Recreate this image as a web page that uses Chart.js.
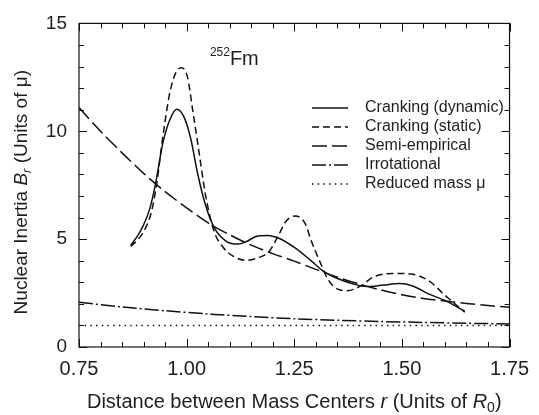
<!DOCTYPE html>
<html>
<head>
<meta charset="utf-8">
<script src="https://cdn.jsdelivr.net/npm/chart.js@4"></script>
<style>
  body { margin: 0; background: #fff; }
  #wrap { width: 539px; height: 415px; }
</style>
</head>
<body>
<div id="wrap"><canvas id="grafico" width="539" height="415"></canvas></div>
<script>
// mass parameter B_r vs. distance r, 252Fm
const crankDynX = [0.870, 0.886, 0.900, 0.915, 0.927, 0.945, 0.961, 0.977, 0.995, 1.010, 1.025, 1.044, 1.065, 1.093, 1.120, 1.139, 1.161, 1.188, 1.214, 1.252, 1.290, 1.317, 1.345, 1.389, 1.419, 1.457, 1.495, 1.525, 1.563, 1.601, 1.646];
const crankDynY = [4.72, 5.15, 5.66, 6.45, 7.49, 9.47, 10.53, 11.02, 10.61, 9.62, 8.09, 6.57, 5.50, 4.89, 4.77, 4.89, 5.12, 5.17, 5.04, 4.59, 3.98, 3.52, 3.22, 2.91, 2.80, 2.87, 2.94, 2.83, 2.45, 2.15, 1.66];

const crankStaX = [0.870, 0.888, 0.903, 0.918, 0.930, 0.945, 0.964, 0.987, 1.002, 1.014, 1.029, 1.044, 1.063, 1.086, 1.108, 1.139, 1.165, 1.192, 1.214, 1.230, 1.252, 1.275, 1.290, 1.309, 1.328, 1.351, 1.373, 1.404, 1.434, 1.480, 1.525, 1.563, 1.601, 1.646];
const crankStaY = [4.66, 5.00, 5.45, 6.25, 7.49, 9.79, 12.06, 12.95, 12.51, 10.99, 9.01, 7.03, 5.40, 4.59, 4.21, 4.02, 4.13, 4.44, 5.20, 5.81, 6.07, 5.73, 4.89, 3.98, 3.14, 2.68, 2.61, 2.83, 3.25, 3.41, 3.37, 3.06, 2.38, 1.61];

const semiX = [0.75, 0.80, 0.85, 0.90, 0.95, 1.00, 1.05, 1.10, 1.15, 1.20, 1.25, 1.30, 1.35, 1.40, 1.45, 1.50, 1.55, 1.60, 1.65, 1.70, 1.75];
const semiY = [11.10, 10.00, 9.00, 8.05, 7.20, 6.45, 5.75, 5.20, 4.72, 4.33, 3.98, 3.60, 3.24, 2.92, 2.65, 2.42, 2.25, 2.13, 2.02, 1.92, 1.84];

const irrotX = [0.75, 0.85, 0.95, 1.05, 1.15, 1.25, 1.35, 1.45, 1.55, 1.65, 1.75];
const irrotY = [2.07, 1.86, 1.68, 1.53, 1.41, 1.31, 1.24, 1.18, 1.14, 1.10, 1.07];

const reducedX = [0.75, 1.75];
const reducedY = [1.0, 1.0];

const etiquetas = ['Cranking (dynamic)', 'Cranking (static)', 'Semi-empirical', 'Irrotational', 'Reduced mass \u03bc'];
const xTicks = [0.75, 1.00, 1.25, 1.50, 1.75];
const yTicks = [0, 5, 10, 15];

const FUENTE = '"Liberation Sans", Arial, Helvetica, sans-serif';
const TINTA = '#1e1e1e';

function puntos(xs, ys){
    return xs.map((x, i) => ({x: x, y: ys[i]}));
}

function serie(label, xs, ys, dash, suave){
    return {
        label: label,
        data: puntos(xs, ys),
        showLine: true,
        borderColor: '#111',
        borderWidth: 1.5,
        borderDash: dash,
        pointRadius: 0,
        fill: false,
        tension: suave ? 0.4 : 0.3,
        cubicInterpolationMode: suave ? 'monotone' : 'default',
    };
}

let datos = {
    datasets: [
        serie(etiquetas[0], crankDynX, crankDynY, [], true),
        serie(etiquetas[1], crankStaX, crankStaY, [7, 4], true),
        serie(etiquetas[2], semiX, semiY, [15, 5], false),
        serie(etiquetas[3], irrotX, irrotY, [14, 3, 2, 3], false),
        serie(etiquetas[4], reducedX, reducedY, [1.5, 4.2], false),
    ]
};

// texto con partes en cursiva / subíndice
function trozos(ctx, partes, x, y, centrar){
    let ancho = 0;
    partes.forEach(p => {
        ctx.font = (p.it ? 'italic ' : '') + p.size + 'px ' + FUENTE;
        ancho += ctx.measureText(p.t).width;
    });
    let cx = centrar ? x - ancho / 2 : x;
    partes.forEach(p => {
        ctx.font = (p.it ? 'italic ' : '') + p.size + 'px ' + FUENTE;
        ctx.fillText(p.t, cx, y + (p.dy || 0));
        cx += ctx.measureText(p.t).width;
    });
}

const marco = {
    id: 'marco',
    afterDraw(chart){
        const ctx = chart.ctx;
        const a = chart.chartArea;
        const sx = chart.scales.x, sy = chart.scales.y;
        ctx.save();
        ctx.strokeStyle = '#111';
        ctx.lineWidth = 1.2;
        ctx.strokeRect(a.left, a.top, a.right - a.left, a.bottom - a.top);

        // ticks hacia dentro en los cuatro lados
        ctx.lineWidth = 1;
        ctx.beginPath();
        for(let i = 0; i <= 20; i++){
            const v = 0.75 + i * 0.05;
            const px = Math.round(sx.getPixelForValue(v)) + 0.5;
            const l = (i % 5 == 0) ? 8 : 5;
            ctx.moveTo(px, a.bottom); ctx.lineTo(px, a.bottom - l);
            ctx.moveTo(px, a.top); ctx.lineTo(px, a.top + l);
        }
        for(let i = 0; i <= 15; i++){
            const py = Math.round(sy.getPixelForValue(i)) + 0.5;
            const l = (i % 5 == 0) ? 8 : 5;
            ctx.moveTo(a.left, py); ctx.lineTo(a.left + l, py);
            ctx.moveTo(a.right, py); ctx.lineTo(a.right - l, py);
        }
        ctx.stroke();

        // leyenda
        ctx.fillStyle = TINTA;
        ctx.textBaseline = 'middle';
        ctx.textAlign = 'left';
        chart.data.datasets.forEach((ds, i) => {
            const y = 108 + i * 19;
            ctx.beginPath();
            ctx.setLineDash(ds.borderDash);
            ctx.lineWidth = ds.borderWidth;
            ctx.strokeStyle = ds.borderColor;
            ctx.moveTo(312, y); ctx.lineTo(348, y);
            ctx.stroke();
            ctx.setLineDash([]);
            ctx.font = '16px ' + FUENTE;
            ctx.fillText(ds.label, 365, y);
        });

        // núcleo
        ctx.textBaseline = 'alphabetic';
        const nx = sx.getPixelForValue(1.054), ny = sy.getPixelForValue(13.05);
        ctx.font = '12px ' + FUENTE;
        ctx.fillText('252', nx, ny - 9);
        ctx.font = '20px ' + FUENTE;
        ctx.fillText('Fm', nx + 20, ny);

        // título eje x
        trozos(ctx, [
            {t: 'Distance between Mass Centers ', size: 20},
            {t: 'r', size: 20, it: true},
            {t: ' (Units of ', size: 20},
            {t: 'R', size: 20, it: true},
            {t: '0', size: 14, dy: 4},
            {t: ')', size: 20},
        ], (a.left + a.right) / 2, 408, true);

        // título eje y
        ctx.translate(27, (a.top + a.bottom) / 2 + 7);
        ctx.rotate(-Math.PI / 2);
        trozos(ctx, [
            {t: 'Nuclear Inertia ', size: 19},
            {t: 'B', size: 19, it: true},
            {t: 'r', size: 13, it: true, dy: 4},
            {t: ' (Units of \u03bc)', size: 19},
        ], 0, 0, true);
        ctx.restore();
    }
};

let opciones = {
    responsive: false,
    animation: false,
    layout: { padding: { top: 19, right: 20, left: 0, bottom: 0 } },
    plugins: {
        legend: { display: false },
        tooltip: { enabled: false },
    },
    scales: {
        x: {
            type: 'linear',
            min: 0.75,
            max: 1.75,
            afterFit: s => { s.height = 68; },
            afterBuildTicks: s => { s.ticks = xTicks.map(v => ({value: v})); },
            grid: { display: false, drawTicks: false },
            border: { display: false },
            ticks: {
                padding: 10,
                color: TINTA,
                font: { size: 20, family: FUENTE },
                callback: v => v.toFixed(2),
            },
        },
        y: {
            type: 'linear',
            min: 0,
            max: 15,
            afterFit: s => { s.width = 79; },
            afterBuildTicks: s => { s.ticks = yTicks.map(v => ({value: v})); },
            grid: { display: false, drawTicks: false },
            border: { display: false },
            ticks: {
                padding: 12,
                color: TINTA,
                font: { size: 19, family: FUENTE },
            },
        },
    },
};

let G1 = new Chart(document.getElementById('grafico').getContext('2d'), {
    type: 'scatter',
    data: datos,
    options: opciones,
    plugins: [marco],
});
</script>
</body>
</html>
